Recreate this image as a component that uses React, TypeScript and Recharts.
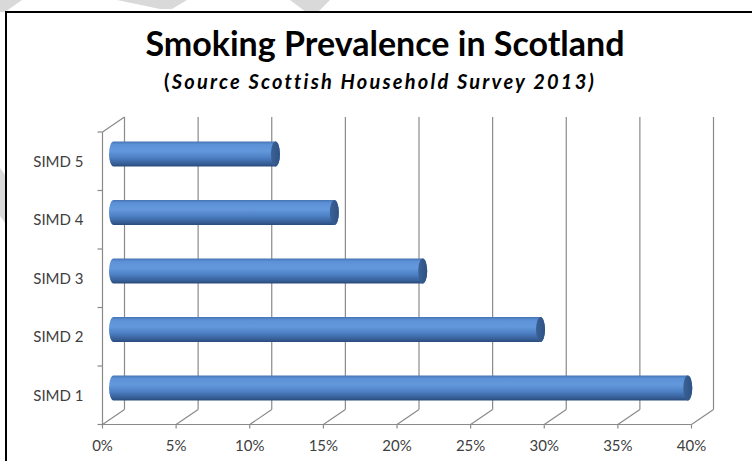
import { BarChart, Bar, XAxis, YAxis, CartesianGrid } from "recharts";

// SIMD quintiles, top to bottom as drawn
const categories = ["SIMD 5", "SIMD 4", "SIMD 3", "SIMD 2", "SIMD 1"];
const prevalence = [0.11, 0.15, 0.21, 0.29, 0.39];
const xTicks = [0, 0.05, 0.1, 0.15, 0.2, 0.25, 0.3, 0.35, 0.4];

const data = categories.map((name, i) => ({ name, value: prevalence[i] }));

const FONT = "Lato, 'Open Sans', Arial, sans-serif";
const GRID = "#8a8a8a";
const LABEL_GAP = 19;
// 3D depth of the walls / floor
const DX = 22;
const DY = -15;

function WallLine(props: any) {
  const { x1, y1, y2, index } = props;
  return (
    <g>
      <line x1={x1 + DX} y1={y1 + DY} x2={x1 + DX} y2={y2 + DY} stroke={GRID} strokeWidth={1.2} />
      <line x1={x1} y1={y2} x2={x1 + DX} y2={y2 + DY} stroke={GRID} strokeWidth={1.2} />
      {index === 0 && (
        <g>
          <line x1={x1} y1={y1} x2={x1 + DX} y2={y1 + DY} stroke={GRID} strokeWidth={1.2} />
          <line x1={x1} y1={y1} x2={x1} y2={y2} stroke={GRID} strokeWidth={1.2} />
        </g>
      )}
    </g>
  );
}

// category label plus the wall tick marks that sit between categories
function CatTick(props: any) {
  const { x, y, payload, index, visibleTicksCount } = props;
  const wallX = x + LABEL_GAP;
  const half = payload.offset ?? 0;
  return (
    <g>
      <line x1={wallX - 5} y1={y - half} x2={wallX} y2={y - half} stroke={GRID} strokeWidth={1.2} />
      {index === visibleTicksCount - 1 && (
        <line x1={wallX - 5} y1={y + half} x2={wallX} y2={y + half} stroke={GRID} strokeWidth={1.2} />
      )}
      <text x={x} y={y} dy="0.355em" textAnchor="end" fill="#404040" fontSize={15} fontFamily={FONT}>
        {payload.value}
      </text>
    </g>
  );
}

function Cylinder(props: any) {
  const { x, y, width, height } = props;
  // bars sit half way into the depth
  const x0 = x + DX / 2;
  const x1 = x + width + DX / 2;
  const top = y + DY / 2;
  const ry = height / 2;
  const rx = 4.5;
  const d = `M${x0},${top} L${x1},${top} A${rx},${ry} 0 0 1 ${x1},${top + height} L${x0},${top + height} A${rx},${ry} 0 0 1 ${x0},${top} Z`;
  return (
    <g>
      <path d={d} fill="url(#cylBody)" />
      <ellipse cx={x1} cy={top + ry} rx={rx} ry={ry} fill="url(#cylCap)" />
    </g>
  );
}

export default function App() {
  return (
    <div style={{ position: "absolute", left: 0, top: 0, width: 752, height: 461, overflow: "hidden", background: "#fff" }}>
      <svg width={752} height={461} style={{ position: "absolute", left: 0, top: 0 }}>
        <polygon points="0,0 22,0 5,12 0,12" fill="#d9d9d9" />
        <polygon points="117,0 187,0 172,9 160,9" fill="#d9d9d9" />
        <polygon points="290,0 330,0 318,12 306,12" fill="#d9d9d9" />
        <polygon points="0,168 6,176 6,224 0,216" fill="#d9d9d9" />
      </svg>
      <div
        style={{
          position: "absolute",
          left: 5,
          top: 11,
          width: 800,
          height: 500,
          border: "2px solid #000",
          background: "#fff",
        }}
      />
      <div
        style={{
          position: "absolute",
          left: 0,
          top: 26,
          width: 770,
          textAlign: "center",
          fontFamily: FONT,
          fontWeight: 700,
          fontSize: 34,
          lineHeight: "34px",
          color: "#000",
        }}
      >
        Smoking Prevalence in Scotland
      </div>
      <div
        style={{
          position: "absolute",
          left: 0,
          top: 71,
          width: 760,
          textAlign: "center",
          fontFamily: FONT,
          fontWeight: 700,
          fontSize: 20,
          lineHeight: "20px",
          letterSpacing: 2.2,
          color: "#000",
        }}
      >
        (<i>Source Scottish Household Survey 2013)</i>
      </div>
      <div style={{ position: "absolute", left: 0, top: 0 }}>
        <BarChart
          width={752}
          height={461}
          data={data}
          layout="vertical"
          margin={{ top: 132, right: 60.5, left: 0, bottom: 6.5 }}
        >
          <defs>
            <linearGradient id="cylBody" x1="0" y1="0" x2="0" y2="1">
              <stop offset="0" stopColor="#4674b4" />
              <stop offset="0.12" stopColor="#5d91d7" />
              <stop offset="0.38" stopColor="#6399dc" />
              <stop offset="0.65" stopColor="#4c7fc3" />
              <stop offset="0.88" stopColor="#375f98" />
              <stop offset="1" stopColor="#2a4b7b" />
            </linearGradient>
            <linearGradient id="cylCap" x1="0" y1="0" x2="1" y2="0">
              <stop offset="0" stopColor="#3a6196" />
              <stop offset="1" stopColor="#2f5284" />
            </linearGradient>
          </defs>
          <CartesianGrid horizontal={false} vertical={<WallLine />} />
          <XAxis
            type="number"
            domain={[0, 0.4]}
            ticks={xTicks}
            interval={0}
            height={30}
            tickFormatter={(v) => `${Math.round(v * 100)}%`}
            axisLine={{ stroke: GRID, strokeWidth: 1.2 }}
            tickLine={{ stroke: GRID, strokeWidth: 1.2 }}
            tickSize={4}
            tickMargin={12}
            tick={{ fill: "#404040", fontSize: 15, fontFamily: FONT }}
          />
          <YAxis
            type="category"
            dataKey="name"
            width={102.5}
            axisLine={false}
            tickLine={false}
            tickSize={0}
            tickMargin={LABEL_GAP}
            interval={0}
            tick={<CatTick />}
          />
          <Bar dataKey="value" barSize={25} shape={<Cylinder />} isAnimationActive={false} />
        </BarChart>
      </div>
    </div>
  );
}
